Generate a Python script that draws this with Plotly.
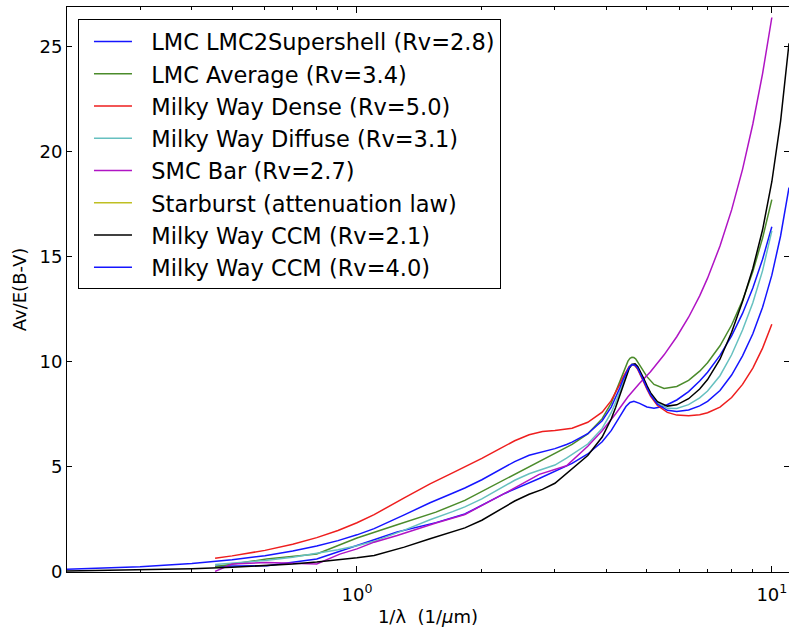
import plotly.graph_objects as go

# ---------------- data ----------------
# Milky Way CCM curves (wide range)
x_ccm_wide = [0.2, 0.3, 0.4, 0.5, 0.6, 0.7, 0.8, 0.9, 1.0, 1.1, 1.3, 1.5, 1.7, 1.82, 2.0, 2.2, 2.4, 2.6,
              2.8, 3.0, 3.2, 3.3, 3.6, 3.9, 4.1, 4.2, 4.3, 4.38, 4.45, 4.53, 4.6, 4.68, 4.75, 4.82, 4.9,
              5.0, 5.1, 5.3, 5.6, 5.9, 6.3, 6.7, 7.0, 7.5, 8.0, 8.5, 9.0, 9.5, 10.0, 10.5, 11.0]
ccm_rv21 = [0.051, 0.098, 0.155, 0.222, 0.298, 0.382, 0.474, 0.573, 0.678, 0.791, 1.185, 1.586, 1.901,
            2.100, 2.463, 2.935, 3.379, 3.703, 3.933, 4.224, 4.696, 4.925, 5.549, 6.428, 7.284, 7.823,
            8.427, 8.924, 9.328, 9.693, 9.879, 9.908, 9.786, 9.567, 9.258, 8.871, 8.541, 8.111, 7.898,
            7.958, 8.250, 8.712, 9.162, 10.130, 11.417, 12.881, 14.450, 16.293, 18.580, 21.482, 25.170]
ccm_rv40 = [0.133, 0.255, 0.405, 0.580, 0.777, 0.996, 1.235, 1.493, 1.769, 2.063, 2.721, 3.295, 3.747,
            4.000, 4.394, 4.847, 5.258, 5.557, 5.735, 5.873, 6.071, 6.183, 6.583, 7.204, 7.854, 8.279,
            8.760, 9.158, 9.478, 9.754, 9.874, 9.848, 9.694, 9.458, 9.143, 8.759, 8.432, 7.990, 7.700,
            7.638, 7.715, 7.910, 8.126, 8.638, 9.379, 10.294, 11.345, 12.601, 14.132, 16.009, 18.303]

# Milky Way dense / diffuse
x_mw = [0.455, 0.5, 0.6, 0.7, 0.8, 0.9, 1.0, 1.1, 1.3, 1.5, 1.7, 1.82, 2.0, 2.2, 2.4, 2.6, 2.8, 3.0,
        3.2, 3.3, 3.6, 3.9, 4.1, 4.2, 4.3, 4.38, 4.45, 4.53, 4.6, 4.68, 4.75, 4.82, 4.9, 5.0, 5.1, 5.3,
        5.6, 5.9, 6.3, 6.7, 7.0, 7.5, 8.0, 8.5, 9.0, 9.5, 10.0]
mw_diffuse = [0.352, 0.410, 0.550, 0.705, 0.874, 1.057, 1.252, 1.460, 1.993, 2.486, 2.873, 3.100, 3.479,
              3.942, 4.368, 4.679, 4.881, 5.092, 5.420, 5.587, 6.093, 6.836, 7.584, 8.063, 8.602, 9.047,
              9.407, 9.725, 9.877, 9.876, 9.738, 9.509, 9.198, 8.812, 8.484, 8.047, 7.794, 7.789, 7.968,
              8.290, 8.617, 9.345, 10.344, 11.520, 12.816, 14.350, 16.239]
mw_dense = [0.659, 0.768, 1.030, 1.319, 1.636, 1.978, 2.343, 2.732, 3.529, 4.194, 4.719, 5.000, 5.410,
            5.854, 6.247, 6.532, 6.684, 6.740, 6.794, 6.845, 7.127, 7.612, 8.155, 8.518, 8.936, 9.282,
            9.556, 9.786, 9.872, 9.816, 9.646, 9.401, 9.083, 8.699, 8.375, 7.926, 7.597, 7.469, 7.434,
            7.488, 7.581, 7.853, 8.306, 8.933, 9.711, 10.658, 11.791]

# LMC average
x_lmc_avg = [0.455, 0.606, 0.8, 1.0, 1.25, 1.55, 1.82, 2.27, 2.75, 3.3, 3.6, 3.9, 4.1, 4.3, 4.45, 4.5,
             4.55, 4.6, 4.65, 4.7, 4.85, 5.0, 5.2, 5.5, 5.9, 6.3, 6.7, 7.0, 7.5, 8.0, 8.5, 9.0, 9.5, 10.0]
lmc_avg = [0.25, 0.62, 0.86, 1.62, 2.25, 2.85, 3.41, 4.41, 5.25, 6.08, 6.58, 7.30, 8.04, 9.07, 9.85,
           10.04, 10.17, 10.22, 10.21, 10.14, 9.72, 9.30, 8.93, 8.74, 8.83, 9.12, 9.56, 9.96, 10.77,
           11.76, 12.93, 14.31, 15.90, 17.73]

# LMC2 supershell
x_lmc2 = [0.455, 0.606, 0.8, 1.0, 1.25, 1.55, 1.82, 2.27, 2.75, 3.3, 3.6, 3.9, 4.1, 4.3, 4.45, 4.55,
          4.65, 4.8, 5.0, 5.2, 5.5, 5.9, 6.3, 6.7, 7.0, 7.5, 8.0, 8.5, 9.0, 9.5, 10.0]
lmc2 = [0.27, 0.30, 0.62, 1.25, 1.90, 2.35, 2.76, 3.74, 4.45, 5.17, 5.62, 6.20, 6.73, 7.40, 7.88, 8.07,
        8.13, 8.03, 7.86, 7.80, 7.89, 8.19, 8.59, 9.09, 9.51, 10.31, 11.24, 12.31, 13.52, 14.89, 16.44]

# SMC bar
x_smc = [0.455, 0.50, 0.606, 0.8, 0.909, 1.0, 1.1, 1.25, 1.55, 1.82, 2.27, 2.75, 3.2, 3.4, 3.6, 3.9,
         4.2, 4.5, 4.8, 5.1, 5.5, 5.9, 6.3, 6.7, 7.0, 7.5, 8.0, 8.5, 9.0, 9.5, 10.0]
smc_bar = [0.03, 0.38, 0.45, 0.38, 0.85, 1.10, 1.42, 1.74, 2.33, 2.74, 3.74, 4.65, 5.06, 5.52, 5.99,
           6.73, 7.52, 8.34, 8.99, 9.53, 10.34, 11.20, 12.13, 13.15, 13.99, 15.52, 17.24, 19.17, 21.33,
           23.73, 26.40]

# Starburst: no visible curve in the reference, only its legend entry
x_starburst = [None]
starburst = [None]

series = [
    ("LMC LMC2Supershell (Rv=2.8)", x_lmc2, lmc2, "#1515ff"),
    ("LMC Average (Rv=3.4)", x_lmc_avg, lmc_avg, "#4b8b2b"),
    ("Milky Way Dense (Rv=5.0)", x_mw, mw_dense, "#ee1e1e"),
    ("Milky Way Diffuse (Rv=3.1)", x_mw, mw_diffuse, "#66c0c0"),
    ("SMC Bar (Rv=2.7)", x_smc, smc_bar, "#b014c4"),
    ("Starburst (attenuation law)", x_starburst, starburst, "#bfbf22"),
    ("Milky Way CCM (Rv=2.1)", x_ccm_wide, ccm_rv21, "#000000"),
    ("Milky Way CCM (Rv=4.0)", x_ccm_wide, ccm_rv40, "#1515ff"),
]

x_tickvals = [1, 10]
x_ticktext = ["10<sup>0</sup>", "10<sup>1</sup>"]
x_minor = [0.2, 0.3, 0.4, 0.5, 0.6, 0.7, 0.8, 0.9, 2, 3, 4, 5, 6, 7, 8, 9]
y_tickvals = [0, 5, 10, 15, 20, 25]

FONT = "DejaVu Sans"
PAD = "\u00a0\u00a0"

fig = go.Figure()
for name, xs, ys, col in series:
    fig.add_trace(go.Scatter(x=xs, y=ys, mode="lines", name=PAD + name,
                             line=dict(color=col, width=1.5), showlegend=True))

fig.update_layout(
    width=789, height=631,
    margin=dict(l=67, r=0, t=7, b=59),
    paper_bgcolor="white", plot_bgcolor="white",
    font=dict(family=FONT, size=18, color="black"),
    showlegend=True,
    legend=dict(x=0.0152, y=0.978, xanchor="left", yanchor="top",
                bgcolor="white", bordercolor="black", borderwidth=1,
                font=dict(family=FONT, size=22.5, color="black"),
                itemwidth=38, indentation=10, tracegroupgap=0),
)

fig.update_xaxes(
    type="log", range=[-0.69897, 1.0414], automargin=False,
    showline=True, linecolor="black", linewidth=1, mirror="ticks",
    showgrid=False, zeroline=False,
    ticks="inside", ticklen=6, tickcolor="black", tickwidth=1,
    tickvals=x_tickvals, ticktext=x_ticktext,
    tickfont=dict(family=FONT, size=18),
    ticklabelstandoff=6,
    minor=dict(tickvals=x_minor, ticks="inside", ticklen=3, tickcolor="black", showgrid=False),
    title=dict(text="1/λ\u00a0\u00a0(1/<i>μ</i>m)", font=dict(family=FONT, size=18), standoff=6),
)
fig.update_yaxes(
    range=[0, 26.9], automargin=False,
    showline=True, linecolor="black", linewidth=1, mirror="ticks",
    showgrid=False, zeroline=False,
    ticks="inside", ticklen=5, tickcolor="black", tickwidth=1,
    tickvals=y_tickvals, tickfont=dict(family=FONT, size=18),
    title=dict(text="Av/E(B-V)", font=dict(family=FONT, size=18), standoff=8),
)

fig.write_html("out.html",
               config={"displayModeBar": False},
               post_script="document.body.style.margin='0';document.body.style.overflow='hidden';")
